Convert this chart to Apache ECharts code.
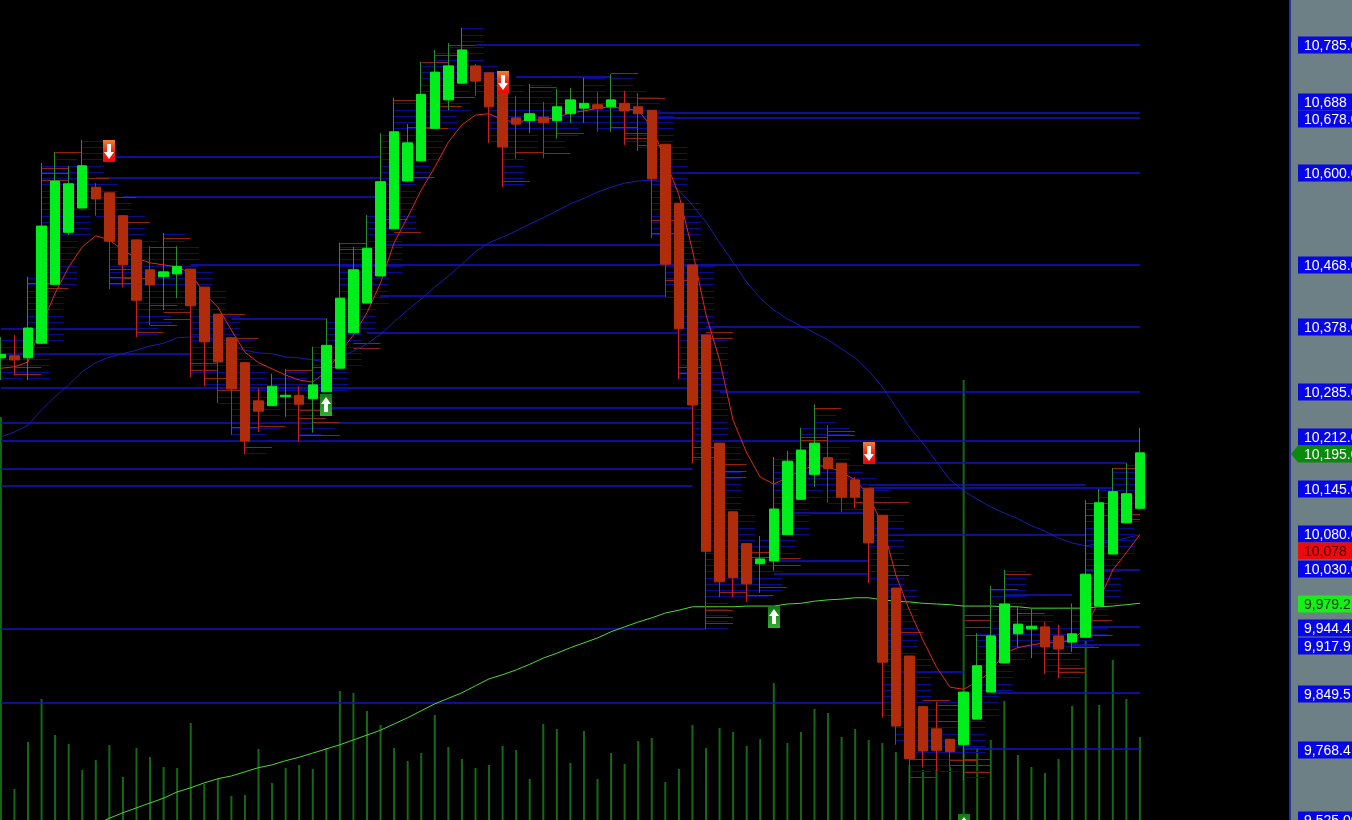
<!DOCTYPE html>
<html>
<head>
<meta charset="utf-8">
<title>K</title>
<style>
html,body{margin:0;padding:0;background:#000;overflow:hidden}
#main{width:1352px;height:820px}
</style>
<script src="https://cdn.jsdelivr.net/npm/echarts@6/dist/echarts.min.js"></script>
</head>
<body>
<div id="main"></div>
<script>
// candles
let opens = [10334,10337,10334,10355,10440,10515,10550,10580,10572,10539,10504,10461,10451,10455,10462,10436,10397,10363,10327,10272,10265,10278,10280,10275,10285,10319,10370,10413,10452,10520,10589,10618,10665,10706,10730,10755,10745,10735,10680,10676,10681,10676,10686,10694,10699,10696,10701,10696,10691,10642,10557,10468,10367,10211,10112,10066,10037,10041,10079,10130,10166,10190,10182,10158,10146,10107,10002,9904,9831,9799,9784,9776,9813,9852,9894,9936,9943,9946,9933,9924,9931,9976,10051,10096,10117];
let closes = [10339,10331,10377,10524,10589,10585,10611,10563,10502,10468,10417,10439,10458,10466,10409,10357,10328,10289,10214,10257,10293,10280,10267,10295,10352,10420,10461,10492,10588,10660,10644,10714,10746,10755,10778,10733,10696,10638,10671,10686,10673,10696,10706,10701,10693,10706,10690,10686,10592,10469,10376,10266,10055,10011,10017,10008,10044,10116,10185,10201,10211,10174,10133,10133,10067,9895,9803,9756,9767,9768,9766,9852,9890,9933,9979,9950,9947,9917,9914,9936,10022,10125,10141,10138,10197];
let lows = [10302,10309,10302,10355,10440,10511,10550,10539,10433,10436,10364,10381,10403,10420,10306,10293,10269,10223,10195,10227,10265,10249,10213,10226,10285,10319,10370,10413,10452,10520,10588,10618,10665,10691,10730,10712,10644,10580,10621,10658,10622,10650,10673,10673,10660,10660,10641,10632,10507,10422,10303,10182,9943,9989,9989,9982,9995,10027,10079,10130,10148,10125,10112,10117,10009,9815,9776,9721,9743,9737,9744,9725,9813,9852,9894,9916,9901,9878,9872,9910,9931,9976,10051,10096,10117];
let highs = [10364,10367,10451,10615,10631,10611,10648,10586,10572,10539,10504,10495,10514,10495,10462,10436,10397,10363,10327,10290,10311,10318,10293,10350,10391,10500,10494,10540,10658,10709,10671,10761,10778,10788,10810,10758,10745,10735,10712,10729,10703,10722,10723,10738,10717,10743,10719,10716,10691,10642,10557,10468,10367,10211,10112,10066,10077,10191,10200,10233,10267,10237,10182,10162,10146,10107,10002,9904,9831,9838,9784,9852,9937,10005,10028,9976,9973,9953,9949,9980,10129,10145,10175,10182,10233];
let volumes = [20150,1550,3900,6050,4250,3800,2500,3000,3750,2150,3600,3150,2650,2600,4850,1800,2050,1200,1250,3550,1850,2600,2750,2550,3600,6450,6350,5450,4750,3600,2950,3350,5250,3650,3050,2600,2750,3700,3500,2050,4800,4550,2850,4450,2050,3350,2800,3950,4100,1900,2550,4750,3600,4600,4400,3700,4050,6850,3850,4400,5550,5350,4150,4550,4000,3850,3400,2750,2500,2500,2650,22000,3600,4000,5950,3250,2650,2350,3050,5700,9000,5750,8000,6050,4150];

// moving averages
let redLine = [10319,10321,10328,10381,10427,10465,10494,10510,10504,10489,10478,10471,10468,10465,10456,10427,10407,10374,10342,10327,10318,10309,10302,10299,10314,10341,10367,10399,10442,10500,10537,10576,10609,10645,10670,10684,10686,10677,10674,10677,10677,10681,10687,10690,10694,10696,10693,10691,10667,10619,10569,10489,10396,10331,10244,10197,10162,10152,10161,10172,10179,10177,10169,10158,10136,10093,10021,9970,9927,9888,9859,9856,9867,9881,9908,9916,9920,9923,9923,9927,9944,9985,10028,10053,10079];
let blueLine = [10220,10227,10237,10259,10278,10295,10314,10327,10335,10340,10345,10351,10355,10363,10364,10364,10360,10350,10345,10341,10340,10335,10334,10331,10328,10334,10344,10354,10368,10386,10403,10419,10436,10452,10469,10487,10500,10508,10517,10527,10536,10546,10556,10564,10573,10580,10586,10589,10590,10588,10576,10554,10530,10500,10472,10443,10420,10403,10390,10380,10370,10360,10347,10334,10315,10292,10263,10234,10211,10184,10158,10142,10130,10119,10110,10102,10092,10084,10074,10067,10063,10066,10070,10074,10079];
let greenLine = [null,null,null,null,null,null,null,9661,9670,9678,9685,9692,9699,9708,9714,9721,9727,9731,9737,9743,9747,9753,9758,9764,9770,9776,9783,9790,9797,9806,9815,9825,9835,9843,9851,9861,9871,9877,9884,9892,9901,9908,9916,9923,9930,9939,9946,9953,9959,9966,9970,9975,9975,9975,9975,9976,9976,9976,9979,9980,9983,9985,9986,9988,9988,9985,9983,9982,9980,9979,9978,9976,9976,9976,9975,9975,9973,9973,9973,9973,9973,9975,9976,9978,9980];

// horizontal price levels: price, first bar, last bar
let levelPrices = [10785,10739,10687,10680,10624,10593,10566,10600,10497,10468,10423,10390,10370,10378,10376,10340,10290,10285,10262,10240,10214,10174,10149,10182,10151,10146,10110,10079,10041,10022,10028,9992,9943,9946,9920,9881,9851,9836,9770];
let levelFrom = [35,38,48,48,8,7,9,49,28,14,28,17,27,52,0,0,0,53,24,0,0,0,0,64,64,64,58,64,57,57,80,74,0,80,79,66,73,0,71];
let levelTo = [84,45,84,84,28,28,28,84,49,84,49,24,50,84,10,14,51,84,51,51,84,51,51,83,80,82,64,80,64,64,84,79,52,84,84,71,84,65,84];

// long red ticks to the right of a bar: bar, price
let redTicks = [[1,10321],[1,10311],[2,10442],[3,10608],[3,10601],[3,10590],[3,10435],[4,10631],[6,10593],[8,10566],[8,10462],[8,10451],[8,10442],[9,10530],[9,10449],[10,10371],[11,10494],[11,10410],[11,10381],[12,10507],[12,10400],[12,10390],[14,10327],[14,10316],[15,10305],[16,10288],[16,10397],[17,10363],[17,10234],[18,10205],[19,10236],[21,10316],[22,10259],[22,10247],[22,10223],[23,10321],[23,10241],[23,10223],[25,10500],[25,10491],[26,10355],[26,10348],[28,10534],[29,10706],[29,10515],[30,10667],[30,10595],[31,10761],[31,10665],[32,10771],[32,10697],[33,10785],[33,10710],[37,10589],[38,10631],[39,10725],[40,10629],[41,10658],[45,10745],[45,10667],[46,10658],[46,10651],[47,10709],[47,10641],[48,10533],[48,10514],[49,10446],[50,10321],[50,10312],[51,10205],[51,10191],[52,10371],[52,10363],[52,9970],[52,9960],[52,9952],[53,10181],[53,10171],[53,10162],[53,9996],[55,10054],[55,10047],[55,9992],[56,10004],[57,10045],[57,10035],[59,10220],[59,10216],[60,10262],[61,10228],[61,10223],[63,10126],[65,10126],[65,10035],[65,10021],[66,9939],[67,9756],[67,9730],[68,9841],[69,9833],[69,9810],[70,9754],[70,9747],[71,9963],[71,9956],[71,9946],[71,9934],[71,9756],[71,9747],[71,9737],[73,10000],[74,10022],[75,9966],[77,9908],[78,9887],[78,9881],[79,9917],[80,10125],[80,10107],[80,9956],[80,9934],[82,10175],[83,10109],[83,10102]];

// buy and sell arrows: bar, price
let sellSignals = [[8,10632],[37,10732],[64,10197]];
let buySignals = [[24,10266],[57,9960],[71,9660]];

// tags in the right hand panel, tagLevels is where the tag sits once they are pushed apart
let tagLabels = ['10,785.0','10,688','10,678.0','10,600.0','10,468.0','10,378.0','10,285.0','10,212.0','10,195.0','10,145.0','10,080.0','10,078','10,030.0','9,979.2','9,944.4','9,917.9','9,849.5','9,768.4','9,525.00'];
let tagLevels = [10785,10703,10678,10600,10468,10378,10285,10220,10195,10145,10080,10055,10030,9979,9944,9918,9849,9768,9667];
let tagKinds = ['blue','blue','blue','blue','blue','blue','blue','blue','last','blue','blue','red','blue','lime','blue','blue','blue','blue','blue'];

let barCount = opens.length;
let categories = [];
for (let i = 0; i < barCount; i++) categories.push(String(i));
let candleData = [], bodyData = [];
for (let i = 0; i < barCount; i++) {
    candleData.push([opens[i], closes[i], lows[i], highs[i]]);
    bodyData.push([opens[i], closes[i], Math.min(opens[i], closes[i]), Math.max(opens[i], closes[i])]);
}

// nothing in the plot runs past the last bar
let plotRight = 1140;

function hLine(x1, x2, y, color, width) {
    let w = width || 1;
    let yy = w === 1 ? Math.round(y) + 0.5 : Math.round(y);
    return { type: 'line', shape: { x1: x1, y1: yy, x2: Math.min(x2, plotRight), y2: yy }, style: { stroke: color, lineWidth: w }, silent: true };
}

function renderLevel(params, api) {
    let k = params.dataIndex;
    let a = api.coord([levelFrom[k], levelPrices[k]]);
    let b = api.coord([levelTo[k], levelPrices[k]]);
    return hLine(a[0], b[0], a[1], '#1414c8', 1.5);
}

// blue hatching beside each bar over its high-low range. The single ticks are too
// fine to read one by one, so the range comes from the bar and the spacing is a style.
function renderHatch(params, api) {
    let i = params.dataIndex;
    let children = [];
    let x = api.coord([i, lows[i]])[0];
    let first = Math.ceil(lows[i] / 9) * 9;
    for (let p = first; p <= highs[i]; p += 9) {
        children.push(hLine(x, x + 22, api.coord([i, p])[1], '#0a0a8c'));
    }
    return { type: 'group', children: children };
}

function renderRedTick(params, api) {
    let t = redTicks[params.dataIndex];
    let c = api.coord(t);
    return hLine(c[0], c[0] + 27, c[1], '#8c2410');
}

function renderSignal(list, down) {
    return function (params, api) {
        let c = api.coord(list[params.dataIndex]);
        let x = Math.round(c[0]), y = Math.round(c[1]);
        let stops = down
            ? [{ offset: 0, color: '#f08030' }, { offset: 0.5, color: '#f02818' }, { offset: 1, color: '#ee0808' }]
            : [{ offset: 0, color: '#127a12' }, { offset: 1, color: '#30b030' }];
        let s = down ? 1 : -1;
        return {
            type: 'group',
            children: [
                { type: 'rect', shape: { x: x - 6, y: y - 11, width: 12, height: 22 }, style: { fill: { type: 'linear', x: 0, y: 0, x2: 0, y2: 1, colorStops: stops } } },
                { type: 'polygon', shape: { points: [[x - 2, y - 7 * s], [x + 2, y - 7 * s], [x + 2, y + s], [x + 5, y + s], [x, y + 8 * s], [x - 5, y + s], [x - 2, y + s]] }, style: { fill: '#fff' } }
            ]
        };
    };
}

let tagColors = {
    blue: { bg: '#0606e6', fg: '#ffffff' },
    last: { bg: '#0a8a0a', fg: '#ffffff' },
    red: { bg: '#ee0a0a', fg: '#4a0000' },
    lime: { bg: '#18ee18', fg: '#004000' }
};

function renderTag(params, api) {
    let k = params.dataIndex;
    let y = Math.round(api.coord([0, tagLevels[k]])[1]);
    let col = tagColors[tagKinds[k]];
    let children = [
        { type: 'rect', shape: { x: 1298, y: y - 8.5, width: 54, height: 17 }, style: { fill: col.bg } }
    ];
    if (tagKinds[k] === 'last') {
        children.push({ type: 'polygon', shape: { points: [[1291, y], [1298, y - 8.5], [1298, y + 8.5]] }, style: { fill: col.bg } });
    }
    children.push({ type: 'text', x: 1304, y: y + 1, style: { text: tagLabels[k], fill: col.fg, font: '14px "Liberation Sans"', verticalAlign: 'middle', align: 'left' } });
    return { type: 'group', children: children };
}

let chart = echarts.init(document.getElementById('main'));
let option = {
    backgroundColor: '#000',
    animation: false,
    grid: { left: 0.88, top: 0, width: 1139.04, height: 820, containLabel: false },
    xAxis: { type: 'category', data: categories, show: false, boundaryGap: false },
    yAxis: [
        { type: 'value', min: 9667.5, max: 10850, show: false, splitLine: { show: false } },
        { type: 'value', min: 0, max: 41000, show: false, splitLine: { show: false } }
    ],
    graphic: [
        { type: 'rect', shape: { x: 1290, y: 0, width: 62, height: 820 }, style: { fill: '#6d8086' }, z: 0 },
        { type: 'rect', shape: { x: 1289, y: 0, width: 2, height: 820 }, style: { fill: '#24349c' }, z: 0 }
    ],
    series: [
        { name: 'volume', type: 'bar', yAxisIndex: 1, data: volumes, barWidth: 2, clip: false, itemStyle: { color: '#146a14' }, z: 1, silent: true },
        { name: 'levels', type: 'custom', renderItem: renderLevel, data: levelPrices, z: 2, silent: true },
        { name: 'hatch', type: 'custom', renderItem: renderHatch, data: highs, z: 2, silent: true },
        { name: 'redTicks', type: 'custom', renderItem: renderRedTick, data: redTicks, z: 2, silent: true },
        { name: 'slow', type: 'line', data: greenLine, symbol: 'none', lineStyle: { color: '#4ed838', width: 1 }, z: 3, silent: true, connectNulls: false },
        { name: 'mid', type: 'line', data: blueLine, symbol: 'none', lineStyle: { color: '#1a1ab4', width: 1 }, z: 3, silent: true },
        { name: 'fast', type: 'line', data: redLine, symbol: 'none', lineStyle: { color: '#e02a1c', width: 1 }, z: 3, silent: true },
        {
            name: 'wicks', type: 'candlestick', data: candleData, barWidth: 1, clip: false, z: 5, silent: true,
            itemStyle: { color: '#2e8c2e', color0: '#cc1e1e', borderColor: '#2e8c2e', borderColor0: '#cc1e1e', borderWidth: 1 }
        },
        {
            name: 'bodies', type: 'candlestick', data: bodyData, barWidth: 10, clip: false, z: 6, silent: true,
            itemStyle: { color: '#00ee1c', color0: '#b02c0a', borderColor: '#00ee1c', borderColor0: '#b02c0a', borderWidth: 1 }
        },
        { name: 'sell', type: 'custom', renderItem: renderSignal(sellSignals, true), data: sellSignals, z: 7, silent: true },
        { name: 'buy', type: 'custom', renderItem: renderSignal(buySignals, false), data: buySignals, z: 7, silent: true },
        { name: 'tags', type: 'custom', renderItem: renderTag, data: tagLevels, z: 8, silent: true }
    ]
};
chart.setOption(option);
</script>
</body>
</html>
